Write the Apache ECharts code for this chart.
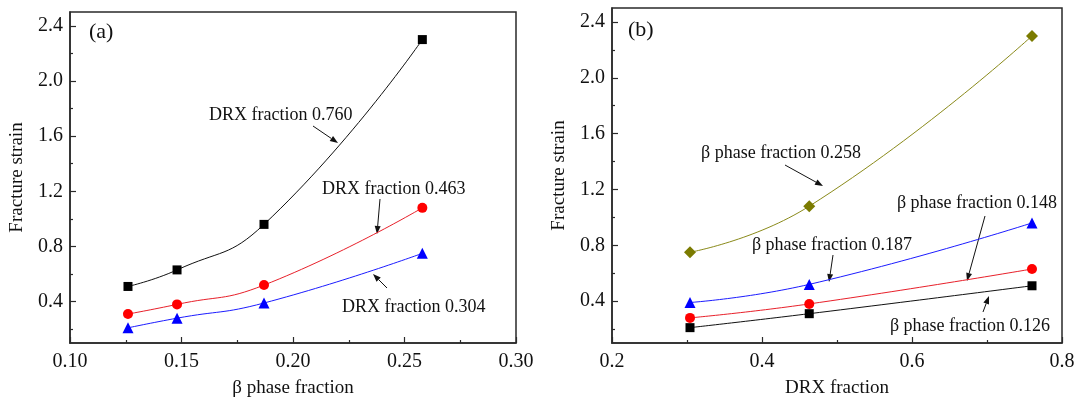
<!DOCTYPE html>
<html lang="en">
<head>
<meta charset="UTF-8">
<title>Fracture strain</title>
<script src="https://cdn.jsdelivr.net/npm/echarts@6/dist/echarts.min.js"></script>
<style>
  html, body { margin: 0; padding: 0; background: #fff; }
  #main { width: 1080px; height: 403px; }
</style>
</head>
<body>
<div id="main"></div>
<script>
// data
var betaFrac = [0.126, 0.148, 0.187, 0.258];
var drxFrac = [0.304, 0.463, 0.760];
var strainDrx304 = [0.21, 0.28, 0.39, 0.75];
var strainDrx463 = [0.31, 0.38, 0.52, 1.08];
var strainDrx760 = [0.51, 0.63, 0.96, 2.30];
var yMajor = [0.4, 0.8, 1.2, 1.6, 2.0, 2.4];
var yMinor = [0.2, 0.6, 1.0, 1.4, 1.8, 2.2];

var font = 'Liberation Serif';
var frame = '#2a2a2a';

function pairs(xs, ys) {
  return xs.map(function (x, i) { return [x, ys[i]]; });
}
// panel b: one curve per beta fraction, over the DRX fractions
var byDrx = [strainDrx304, strainDrx463, strainDrx760];
function betaRow(i) {
  return pairs(drxFrac, byDrx.map(function (row) { return row[i]; }));
}

function curve(name, xi, yi, data, color, symbol, symColor, size) {
  return {
    name: name, type: 'line', xAxisIndex: xi, yAxisIndex: yi,
    data: data, smooth: 0.5, showSymbol: true, symbol: symbol, symbolSize: size,
    lineStyle: { color: color, width: 1 },
    itemStyle: { color: symColor },
    z: 3
  };
}

function xAx(grid, min, max, step, digits, name) {
  return {
    type: 'value', gridIndex: grid, min: min, max: max, interval: step,
    name: name, nameLocation: 'middle', nameGap: 36,
    nameTextStyle: { fontFamily: font, fontSize: 19, color: '#111' },
    axisLine: { lineStyle: { color: frame, width: 1.5 } },
    axisTick: { inside: true, length: 6, lineStyle: { color: frame, width: 1.2 } },
    minorTick: { show: true, splitNumber: 2, length: 3, lineStyle: { color: frame, width: 1.2 } },
    axisLabel: { fontFamily: font, fontSize: 20, color: '#111', margin: 9,
      formatter: function (v) { return v.toFixed(digits); } },
    splitLine: { show: false }
  };
}
function yAx(grid) {
  return {
    type: 'value', gridIndex: grid, min: 0.1, max: 2.5, position: 'left',
    name: 'Fracture strain', nameLocation: 'middle', nameGap: 43,
    nameTextStyle: { fontFamily: font, fontSize: 19, color: '#111' },
    axisLine: { lineStyle: { color: frame, width: 1.5 } },
    axisTick: { inside: true, length: 6, customValues: yMajor, lineStyle: { color: frame, width: 1.2 } },
    axisLabel: { fontFamily: font, fontSize: 20, color: '#111', margin: 7, customValues: yMajor,
      formatter: function (v) { return v.toFixed(1); } },
    splitLine: { show: false }
  };
}
function yMinorAx(grid) {
  return {
    type: 'value', gridIndex: grid, min: 0.1, max: 2.5, position: 'left', offset: 0,
    axisLine: { show: false },
    axisTick: { inside: true, length: 3, customValues: yMinor, lineStyle: { color: frame, width: 1.2 } },
    axisLabel: { show: false },
    splitLine: { show: false }
  };
}

function arrow(x1, y1, x2, y2) {
  var a = Math.atan2(y2 - y1, x2 - x1), L = 8, W = 3;
  var bx = x2 - L * Math.cos(a), by = y2 - L * Math.sin(a);
  var px = -Math.sin(a) * W, py = Math.cos(a) * W;
  return [
    { type: 'line', shape: { x1: x1, y1: y1, x2: bx, y2: by }, style: { stroke: '#111', lineWidth: 1 } },
    { type: 'polygon', shape: { points: [[x2, y2], [bx + px, by + py], [bx - px, by - py]] }, style: { fill: '#111' } }
  ];
}
function note(text, x, y, align) {
  return { type: 'text', x: x, y: y, style: { text: text, fontFamily: font, fontSize: 18, fill: '#111',
    textAlign: align || 'left', textVerticalAlign: 'middle' } };
}

var graphics = [
  { type: 'text', x: 89, y: 32, style: { text: '(a)', fontFamily: font, fontSize: 22, fill: '#111', textVerticalAlign: 'middle' } },
  { type: 'text', x: 628, y: 30, style: { text: '(b)', fontFamily: font, fontSize: 22, fill: '#111', textVerticalAlign: 'middle' } },
  note('DRX fraction 0.760', 209, 115),
  note('DRX fraction 0.463', 322, 189),
  note('DRX fraction 0.304', 342, 307),
  note('\u03b2 phase fraction 0.258', 701, 153),
  note('\u03b2 phase fraction 0.148', 1057, 203, 'right'),
  note('\u03b2 phase fraction 0.187', 912, 245, 'right'),
  note('\u03b2 phase fraction 0.126', 1050, 326, 'right')
].concat(
  arrow(313, 126, 338, 143),
  arrow(380, 199, 377, 234),
  arrow(387, 288, 373, 274),
  arrow(785, 165, 823, 186),
  arrow(985, 216, 967, 281),
  arrow(833, 255, 829, 282),
  arrow(983, 312, 989, 296)
);

var chart = echarts.init(document.getElementById('main'));
chart.setOption({
  backgroundColor: '#fff',
  animation: false,
  grid: [
    { left: 70, top: 12, width: 446, height: 332, show: true, borderColor: frame, borderWidth: 1.5, backgroundColor: 'transparent' },
    { left: 612, top: 8, width: 450, height: 336, show: true, borderColor: frame, borderWidth: 1.5, backgroundColor: 'transparent' }
  ],
  xAxis: [
    xAx(0, 0.10, 0.30, 0.05, 2, '\u03b2 phase fraction'),
    xAx(1, 0.2, 0.8, 0.2, 1, 'DRX fraction')
  ],
  yAxis: [yAx(0), yAx(1), yMinorAx(0), yMinorAx(1)],
  series: [
    curve('DRX 0.760', 0, 0, pairs(betaFrac, strainDrx760), '#111', 'rect', '#000', 9),
    curve('DRX 0.463', 0, 0, pairs(betaFrac, strainDrx463), '#e8202a', 'circle', '#ff0000', 10),
    curve('DRX 0.304', 0, 0, pairs(betaFrac, strainDrx304), '#1c1cff', 'triangle', '#0000ff', 11),
    curve('beta 0.258', 1, 1, betaRow(3), '#8a8a1a', 'diamond', '#7b7b00', 12),
    curve('beta 0.187', 1, 1, betaRow(2), '#1c1cff', 'triangle', '#0000ff', 11),
    curve('beta 0.148', 1, 1, betaRow(1), '#e8202a', 'circle', '#ff0000', 10),
    curve('beta 0.126', 1, 1, betaRow(0), '#111', 'rect', '#000', 9)
  ],
  graphic: graphics
});
</script>
</body>
</html>
